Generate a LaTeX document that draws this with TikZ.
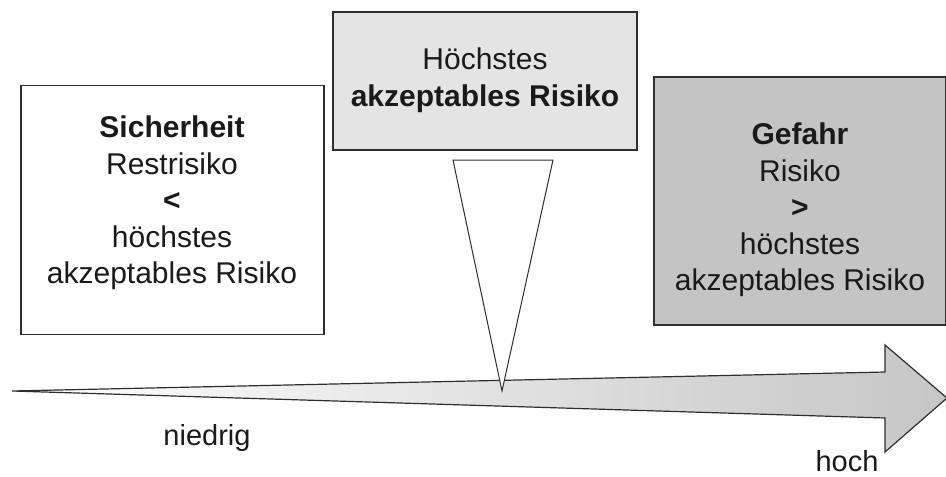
\documentclass[tikz,border=0pt]{standalone}
\usepackage{fontspec}
\setmainfont{Liberation Sans}
\definecolor{edge}{HTML}{2E2E2E}
\definecolor{ink}{HTML}{1A1A1A}
\definecolor{paleFill}{HTML}{E4E4E4}
\definecolor{darkFill}{HTML}{C4C4C4}
\definecolor{arrowEnd}{HTML}{C6C6C6}
\begin{document}
\begin{tikzpicture}[x=1pt,y=-1pt,
  frame/.style={draw=edge, line width=1.4pt, inner sep=0pt},
  txt/.style={font=\fontsize{30}{36.5}\selectfont, text=ink, align=center, inner sep=0pt},
  axislabel/.style={font=\fontsize{29}{34}\selectfont, text=ink, inner sep=0pt}]
\useasboundingbox (0,0) rectangle (946,477);

% scale arrow from low to high risk, shaded white to grey
\coordinate (tail) at (12,391);
\coordinate (tip) at (947,398);
\shade[left color=white, right color=arrowEnd, draw=edge, line width=1.2pt, line join=miter]
  (tail) -- (885,372) -- (885,345) -- (tip) -- (885,452) -- (885,418) -- cycle;

% three boxes
\node[frame, fill=white, minimum width=303pt, minimum height=249pt] (safe) at (172.5,210) {};
\node[frame, fill=paleFill, minimum width=304pt, minimum height=138pt] (limit) at (485,81) {};
\node[frame, fill=darkFill, minimum width=292pt, minimum height=248pt] (danger) at (800,201) {};

% pointer from the limit box down to the scale
\coordinate (pointer) at (502,391);
\draw[edge, line width=1pt, fill=white, line join=miter] (453,160) -- (553,160) -- (pointer) -- cycle;

% texts
\node[txt] (safeText) at (172,203) {\textbf{Sicherheit}\\Restrisiko\\\textbf{<}\\höchstes\\akzeptables Risiko};
\node[txt] (limitText) at (485,80) {Höchstes\\\textbf{akzeptables Risiko}};
\node[txt] (dangerText) at (800,210) {\textbf{Gefahr}\\Risiko\\\textbf{>}\\höchstes\\akzeptables Risiko};

\node[axislabel] (low) at (207,438) {niedrig};
\node[axislabel] (high) at (847,461) {hoch};
\end{tikzpicture}
\end{document}
